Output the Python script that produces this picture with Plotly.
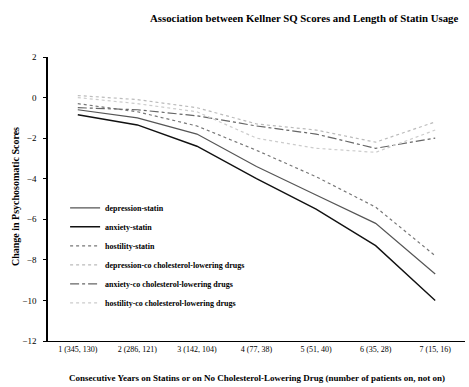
import plotly.graph_objects as go

categories = ["1 (345, 130)", "2 (286, 121)", "3 (142, 104)", "4 (77, 38)",
              "5 (51, 40)", "6 (35, 28)", "7 (15, 16)"]

depression_statin = [-0.6, -1.0, -1.8, -3.4, -4.8, -6.2, -8.7]
anxiety_statin = [-0.85, -1.35, -2.4, -4.0, -5.5, -7.3, -10.0]
hostility_statin = [-0.3, -0.7, -1.4, -2.6, -3.9, -5.4, -7.8]
depression_co = [0.1, -0.1, -0.5, -1.3, -1.6, -2.2, -1.2]
anxiety_co = [-0.5, -0.6, -0.9, -1.4, -1.8, -2.5, -2.0]
hostility_co = [0.0, -0.3, -0.7, -2.0, -2.5, -2.7, -1.6]

series_names = ["depression-statin", "anxiety-statin", "hostility-statin",
                "depression-co cholesterol-lowering drugs",
                "anxiety-co cholesterol-lowering drugs",
                "hostility-co cholesterol-lowering drugs"]
series_values = [depression_statin, anxiety_statin, hostility_statin,
                 depression_co, anxiety_co, hostility_co]
styles = [
    dict(color="#555555", width=1.2, dash="solid"),
    dict(color="#111111", width=1.4, dash="solid"),
    dict(color="#777777", width=1.2, dash="dot"),
    dict(color="#bbbbbb", width=1.2, dash="dot"),
    dict(color="#666666", width=1.2, dash="dashdot"),
    dict(color="#cccccc", width=1.2, dash="dot"),
]

FONT = "Liberation Serif"

fig = go.Figure()
for name, vals, st in zip(series_names, series_values, styles):
    fig.add_trace(go.Scatter(x=categories, y=vals, mode="lines",
                             name="<b>" + name + "</b>", line=st))

fig.update_layout(
    width=469, height=387,
    margin=dict(l=48, r=4, t=57, b=46),
    plot_bgcolor="white", paper_bgcolor="white",
    font=dict(family=FONT, size=9, color="black"),
    showlegend=True,
    legend=dict(x=0.041, y=0.52, xanchor="left", yanchor="top",
                bgcolor="rgba(0,0,0,0)", font=dict(family=FONT, size=8, color="black"),
                tracegroupgap=0),
    xaxis=dict(type="category", range=[-0.5, 6.5], showline=True, linecolor="black",
               linewidth=1, ticks="", showgrid=False, zeroline=False,
               tickfont=dict(family=FONT, size=8)),
    yaxis=dict(range=[-12, 2], dtick=2, showline=True, linecolor="black", linewidth=1.5,
               ticks="outside", ticklen=3, tickcolor="black", showgrid=False, zeroline=False,
               ticklabelstandoff=5,
               tickfont=dict(family=FONT, size=9)),
    annotations=[
        dict(text="<b>Association between Kellner SQ Scores and Length of Statin Usage</b>",
             xref="paper", yref="paper", x=0.988, y=1.0, xanchor="right", yanchor="middle",
             yshift=39, showarrow=False,
             font=dict(family=FONT, size=10.8)),
        dict(text="<b>Consecutive Years on Statins or on No Cholesterol-Lowering Drug (number of patients on, not on)</b>",
             xref="paper", yref="paper", x=0.5, y=0, xanchor="center", yanchor="middle",
             yshift=-37, showarrow=False,
             font=dict(family=FONT, size=9)),
        dict(text="<b>Change in Psychosomatic Scores</b>", textangle=-90,
             xref="paper", yref="paper", x=0, xshift=-33, y=0.507,
             xanchor="center", yanchor="middle", showarrow=False,
             font=dict(family=FONT, size=10)),
    ],
)

fig.write_html("out.html", config={"displayModeBar": False},
               post_script="document.body.style.margin='0';")
